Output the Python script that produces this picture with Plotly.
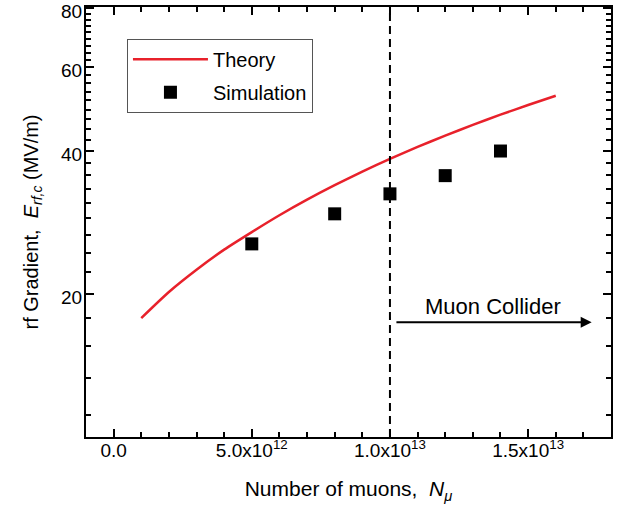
import plotly.graph_objects as go
import numpy as np

# Data
theory_x = [1e12, 2e12, 3e12, 4e12, 5e12, 6e12, 7e12, 8e12, 9e12, 1.0e13,
            1.1e13, 1.2e13, 1.3e13, 1.4e13, 1.5e13, 1.6e13]
theory_y = [17.8, 20.2, 22.5, 24.8, 27.0, 29.3, 31.6, 33.9, 36.2, 38.5,
            40.8, 43.1, 45.4, 47.7, 50.0, 52.3]

sim_x = [5e12, 8e12, 1.0e13, 1.2e13, 1.4e13]
sim_y = [25.5, 29.5, 32.5, 35.5, 40.0]

x_tickvals = [0, 5e12, 1.0e13, 1.5e13]
x_ticktext = ["0.0", "5.0x10<sup>12</sup>", "1.0x10<sup>13</sup>", "1.5x10<sup>13</sup>"]
x_minor = [i * 1e12 for i in range(-1, 19)]

y_tickvals = [20, 40, 60, 80]
y_ticktext = ["20", "40", "60", "80"]
y_minor = [20 / 9 * k for k in range(5, 37)]

collider_start = 1.018e13
collider_end = 1.73e13
collider_y = 17.45
collider_text_x = 1.372e13
collider_label = "Muon Collider"
boundary_x = 1.0e13

FONT = "Liberation Sans, Arial, Helvetica, sans-serif"

fig = go.Figure()
fig.add_trace(go.Scatter(
    x=theory_x, y=theory_y, mode="lines", name="Theory",
    line=dict(color="#e8212b", width=2.5, shape="spline", smoothing=0.6),
    legendgroup="a",
))
fig.add_trace(go.Scatter(
    x=sim_x, y=sim_y, mode="markers", name="Simulation",
    marker=dict(symbol="square", size=13, color="black"),
    legendgroup="b",
))

# vertical dashed line at 1e13
fig.add_shape(type="line", x0=boundary_x, x1=boundary_x, y0=0, y1=1,
              xref="x", yref="paper",
              line=dict(color="black", width=2, dash="8px,5px"))

# arrow
fig.add_annotation(
    x=collider_end, y=np.log10(collider_y),
    ax=collider_start, ay=np.log10(collider_y),
    xref="x", yref="y", axref="x", ayref="y",
    text="", showarrow=True, arrowhead=2, arrowsize=1.1, arrowwidth=2,
    arrowcolor="black",
)
fig.add_annotation(
    x=collider_text_x, y=np.log10(collider_y), xref="x", yref="y",
    text=collider_label, showarrow=False, yanchor="bottom", yshift=1,
    font=dict(family=FONT, size=22, color="black"),
)

axis_common = dict(
    showline=True, linecolor="black", linewidth=2, mirror="allticks",
    ticks="inside", ticklen=8, tickwidth=1.5, tickcolor="black",
    showgrid=False, zeroline=False, automargin=False,
    ticklabeloverflow="allow",
)

fig.update_xaxes(
    **axis_common,
    range=[-1e12, 1.8e13],
    tickmode="array", tickvals=x_tickvals, ticktext=x_ticktext,
    tickfont=dict(family=FONT, size=19, color="black"),
    minor=dict(tickmode="array", tickvals=x_minor, ticks="inside",
               ticklen=5, tickwidth=1.5, tickcolor="black"),
    ticklabelstandoff=-5,
    title=dict(text="Number of muons,  <i>N</i><sub><i>μ</i></sub>",
               font=dict(family=FONT, size=21, color="black"), standoff=22),
)
fig.update_yaxes(
    **axis_common,
    type="log", range=[1, np.log10(80.4)],
    tickmode="array", tickvals=y_tickvals, ticktext=y_ticktext,
    tickfont=dict(family=FONT, size=19, color="black"),
    minor=dict(tickmode="array", tickvals=y_minor, ticks="inside",
               ticklen=5, tickwidth=1.5, tickcolor="black"),
    ticklabelstandoff=-2, ticklabelshift=3,
    title=dict(text="rf Gradient,  <i>E</i><sub><i>rf,c</i></sub> (MV/m)",
               font=dict(family=FONT, size=20, color="black"), standoff=17),
)

fig.update_layout(
    width=623, height=508,
    margin=dict(l=86, r=12, t=7, b=71),
    plot_bgcolor="white", paper_bgcolor="white",
    font=dict(family=FONT, size=20, color="black"),
    legend=dict(
        x=0.078, y=0.926, xanchor="left", yanchor="top",
        bordercolor="#555555", borderwidth=1, bgcolor="white",
        font=dict(family=FONT, size=20, color="black"),
        tracegroupgap=4, itemwidth=75,
        entrywidth=190, entrywidthmode="pixels",
    ),
    showlegend=True,
)

fig.write_html("out.html",
               config={"displayModeBar": False},
               post_script="document.body.style.margin='0';document.body.style.overflow='hidden';")
